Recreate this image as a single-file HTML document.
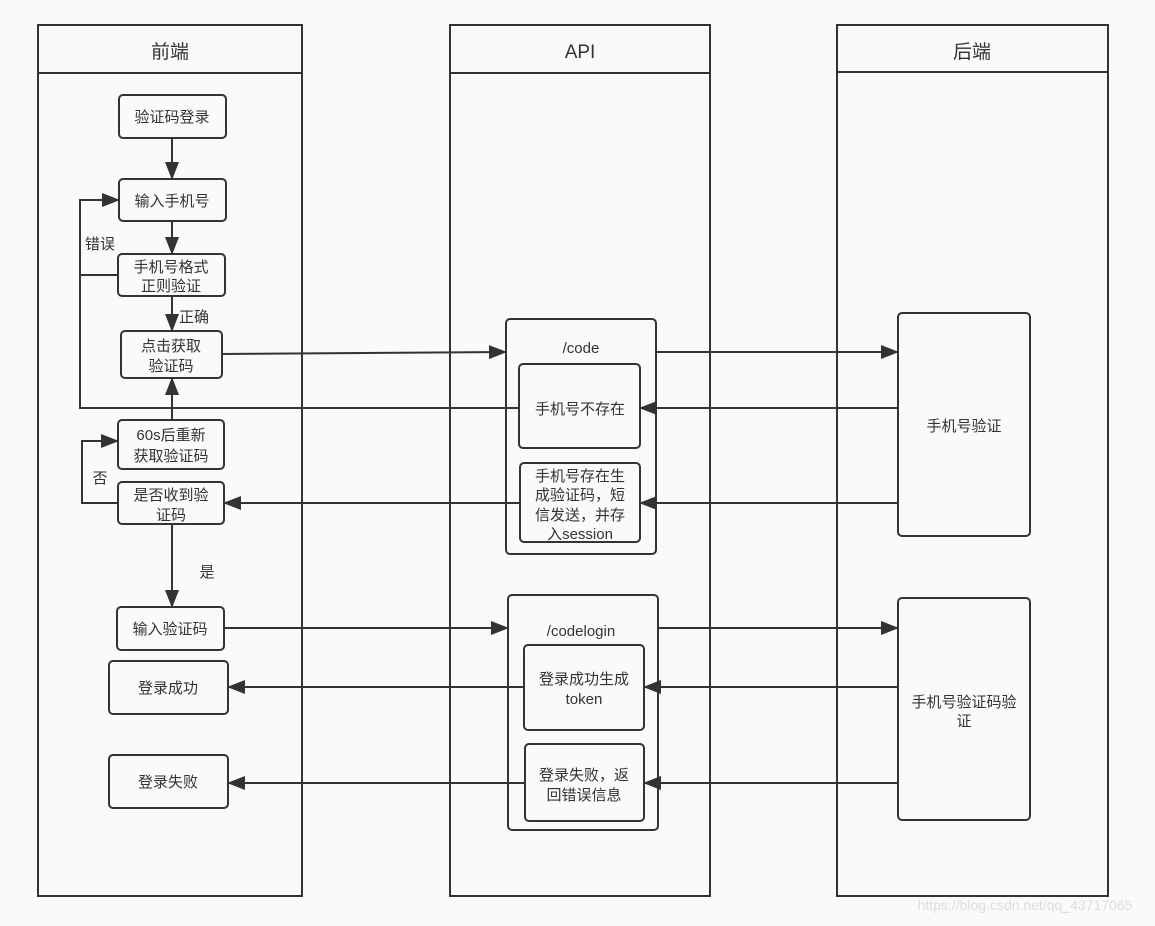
<!DOCTYPE html>
<html><head><meta charset="utf-8"><style>
body{margin:0;background:#fafafa;}
svg text{font-family:"Liberation Sans","Noto Sans CJK SC",sans-serif;fill:#333;font-size:15px;text-anchor:middle;}
</style></head><body>
<svg width="1155" height="921" xmlns="http://www.w3.org/2000/svg">
<defs>
<marker id="b" markerWidth="18" markerHeight="14" refX="17" refY="7" orient="auto" markerUnits="userSpaceOnUse"><path d="M0,0 L18,7 L0,14 Z" fill="#333"/></marker></defs>
<g stroke="#333" stroke-width="2" fill="none">
<rect x="38" y="25" width="264" height="871"/><line x1="38" y1="73" x2="302" y2="73"/>
<rect x="450" y="25" width="260" height="871"/><line x1="450" y1="73" x2="710" y2="73"/>
<rect x="837" y="25" width="271" height="871"/><line x1="837" y1="72" x2="1108" y2="72"/>
<rect x="119" y="95" width="107" height="43" rx="4"/>
<rect x="119" y="179" width="107" height="42" rx="4"/>
<rect x="118" y="254" width="107" height="42" rx="4"/>
<rect x="121" y="331" width="101" height="47" rx="4"/>
<rect x="118" y="420" width="106" height="49" rx="4"/>
<rect x="118" y="482" width="106" height="42" rx="4"/>
<rect x="117" y="607" width="107" height="43" rx="4"/>
<rect x="109" y="661" width="119" height="53" rx="4"/>
<rect x="109" y="755" width="119" height="53" rx="4"/>
<rect x="506" y="319" width="150" height="235" rx="4"/>
<rect x="519" y="364" width="121" height="84" rx="4"/>
<rect x="520" y="463" width="120" height="79" rx="4"/>
<rect x="508" y="595" width="150" height="235" rx="4"/>
<rect x="524" y="645" width="120" height="85" rx="4"/>
<rect x="525" y="744" width="119" height="77" rx="4"/>
<rect x="898" y="313" width="132" height="223" rx="4"/>
<rect x="898" y="598" width="132" height="222" rx="4"/>
</g>
<g stroke="#333" stroke-width="2" fill="none">
<line x1="172" y1="138" x2="172" y2="179" marker-end="url(#b)"/>
<line x1="172" y1="221" x2="172" y2="254" marker-end="url(#b)"/>
<line x1="172" y1="296" x2="172" y2="331" marker-end="url(#b)"/>
<line x1="172" y1="420" x2="172" y2="378" marker-end="url(#b)"/>
<line x1="172" y1="524" x2="172" y2="607" marker-end="url(#b)"/>
<polyline points="118,275 80,275"/>
<polyline points="519,408 80,408 80,200 119,200" marker-end="url(#b)"/>
<polyline points="118,503 82,503 82,441 118,441" marker-end="url(#b)"/>
<line x1="222" y1="354" x2="506" y2="352" marker-end="url(#b)"/>
<line x1="656" y1="352" x2="898" y2="352" marker-end="url(#b)"/>
<line x1="898" y1="408" x2="640" y2="408" marker-end="url(#b)"/>
<line x1="898" y1="503" x2="640" y2="503" marker-end="url(#b)"/>
<line x1="520" y1="503" x2="224" y2="503" marker-end="url(#b)"/>
<line x1="224" y1="628" x2="508" y2="628" marker-end="url(#b)"/>
<line x1="658" y1="628" x2="898" y2="628" marker-end="url(#b)"/>
<line x1="898" y1="687" x2="644" y2="687" marker-end="url(#b)"/>
<line x1="524" y1="687" x2="228" y2="687" marker-end="url(#b)"/>
<line x1="898" y1="783" x2="644" y2="783" marker-end="url(#b)"/>
<line x1="525" y1="783" x2="228" y2="783" marker-end="url(#b)"/>
</g>
<text x="170" y="58" font-size="19" style="font-size:19px">前端</text>
<text x="580" y="58" style="font-size:19px">API</text>
<text x="972" y="58" style="font-size:19px">后端</text>
<text x="172" y="122">验证码登录</text>
<text x="172" y="206">输入手机号</text>
<text x="171" y="272">手机号格式</text><text x="171" y="291">正则验证</text>
<text x="171" y="351">点击获取</text><text x="171" y="371">验证码</text>
<text x="171" y="440">60s后重新</text><text x="171" y="461">获取验证码</text>
<text x="171" y="500">是否收到验</text><text x="171" y="520">证码</text>
<text x="170" y="634">输入验证码</text>
<text x="168" y="693">登录成功</text>
<text x="168" y="787">登录失败</text>
<text x="100" y="249">错误</text>
<text x="194" y="322">正确</text>
<text x="100" y="483">否</text>
<text x="207" y="577">是</text>
<text x="581" y="353">/code</text>
<text x="580" y="414">手机号不存在</text>
<text x="580" y="481">手机号存在生</text><text x="580" y="500">成验证码，短</text><text x="580" y="520">信发送，并存</text><text x="580" y="539">入session</text>
<text x="581" y="636">/codelogin</text>
<text x="584" y="684">登录成功生成</text><text x="584" y="704">token</text>
<text x="584" y="780">登录失败，返</text><text x="584" y="800">回错误信息</text>
<text x="964" y="431">手机号验证</text>
<text x="964" y="707">手机号验证码验</text><text x="964" y="726">证</text>
<text x="1025" y="910" style="fill:#ddd;font-size:14px">https://blog.csdn.net/qq_43717065</text>
</svg>
</body></html>
